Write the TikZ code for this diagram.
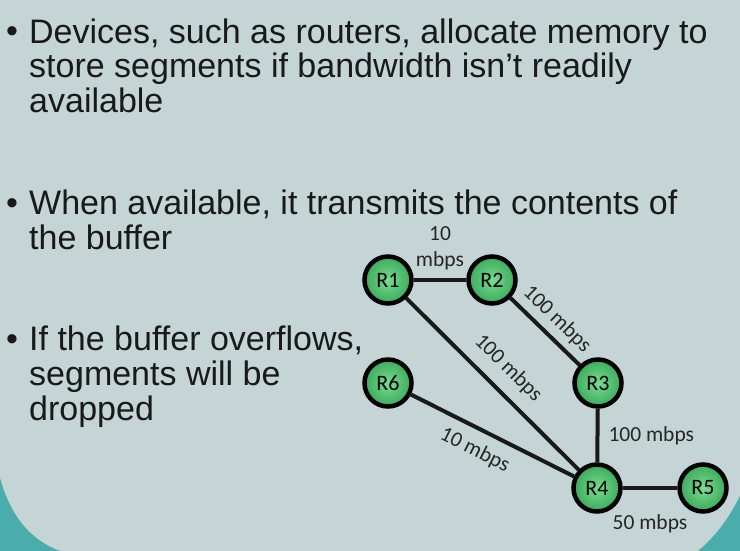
\documentclass[tikz,border=0pt]{standalone}
\usepackage{fontspec}
\setmainfont{Liberation Sans}
\newfontfamily\labelfont{Carlito}
\usetikzlibrary{positioning}

\definecolor{slidebg}{RGB}{197,213,213}
\definecolor{slideteal}{RGB}{75,172,172}
\definecolor{routerin}{RGB}{120,220,145}
\definecolor{routerout}{RGB}{60,170,90}

\tikzset{
  router/.style={circle, draw=black, line width=4.5pt, minimum size=47pt, inner sep=0pt,
    inner color=routerin, outer color=routerout, font=\labelfont\fontsize{22}{22}\selectfont},
  link/.style={line width=4pt, black!90},
  rate/.style={font=\labelfont\fontsize{21.5}{26}\selectfont, text=black!85, inner sep=1pt},
  bullettext/.style={anchor=base west, align=left, inner sep=0pt, text=black!90,
    font=\fontsize{34}{35}\selectfont},
  dot/.style={anchor=base west, inner sep=0pt, text=black!90, font=\fontsize{34}{35}\selectfont}
}

\begin{document}
\begin{tikzpicture}[x=1pt,y=-1pt]

\useasboundingbox (0,0) rectangle (740,551);

% fond
\fill[slidebg] (0,0) rectangle (740,551);
\fill[slideteal] (0,478) .. controls (10,515) and (30,540) .. (60,551) -- (0,551) -- cycle;
\fill[slideteal] (740,496) .. controls (728,520) and (714,538) .. (698,551) -- (740,551) -- cycle;

% texte (ancre = ligne de base de la derniere ligne)
\node[dot] (b1) at (6,43) {•};
\node[bullettext] (t1) at (29,113) {Devices, such as routers, allocate memory to\\store segments if bandwidth isn’t readily\\available};
\node[dot] (b2) at (6,214) {•};
\node[bullettext] (t2) at (29,249) {When available, it transmits the contents of\\the buffer};
\node[dot] (b3) at (6,350) {•};
\node[bullettext] (t3) at (29,420) {If the buffer overflows,\\segments will be\\dropped};

% routeurs
\node[router] (R1) at (388,280) {R1};
\node[router] (R2) at (492,280) {R2};
\node[router] (R3) at (598,383) {R3};
\node[router] (R6) at (388,383) {R6};
\node[router] (R4) at (597,488) {R4};
\node[router] (R5) at (703,488) {R5};

% liens
\draw[link] (R1) -- node[rate, align=center, above=7pt] {10\\mbps} (R2);
\draw[link] (R2) -- node[rate, sloped, above=5pt] {100 mbps} (R3);
\draw[link] (R1) -- node[rate, sloped, above=10pt] {100 mbps} (R4);
\draw[link] (R6) -- node[rate, sloped, below=9pt, pos=0.45] {10 mbps} (R4);
\draw[link] (R3) -- node[rate, right=8pt] {100 mbps} (R4);
\draw[link] (R4) -- node[rate, below=24pt] {50 mbps} (R5);

\end{tikzpicture}
\end{document}
